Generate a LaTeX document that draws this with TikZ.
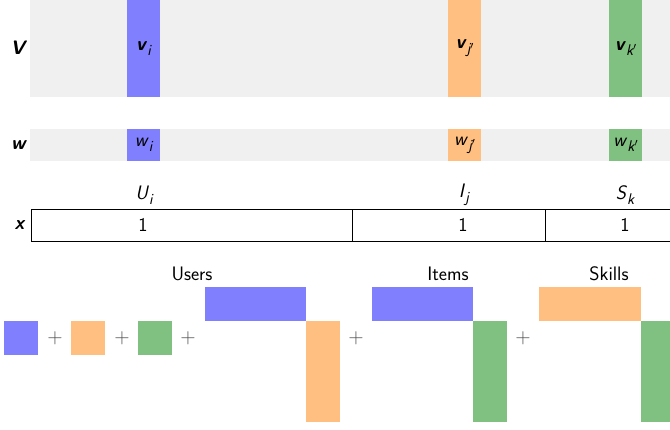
\documentclass[tikz,border=0pt]{standalone}
\usepackage{fontspec}
\usetikzlibrary{positioning}
\definecolor{ublue}{HTML}{8080FF}
\definecolor{iorange}{HTML}{FFBF80}
\definecolor{sgreen}{HTML}{80C080}
\definecolor{bandgray}{HTML}{F0F0F0}
\newcommand{\subtxt}[1]{\raisebox{-0.25em}{\fontsize{15.5}{15.5}\selectfont\mdseries\itshape #1}}
\newcommand{\prm}{\raisebox{0.3em}{\fontsize{11}{11}\selectfont$\prime$}}
\newcommand{\bvec}[2]{\textbf{\textit{#1}}\subtxt{#2}}
\newcommand{\ivec}[2]{\textit{#1}\subtxt{#2}}
\tikzstyle{band} = [rectangle, inner sep=0pt, outer sep=0pt, fill=bandgray, anchor=north west, minimum width=640pt]
\tikzstyle{col} = [rectangle, inner sep=0pt, outer sep=0pt, anchor=north west, minimum width=33pt]
\tikzstyle{cell} = [rectangle, inner sep=0pt, outer sep=0pt, anchor=north west, draw=black, minimum height=32pt]
\tikzstyle{bar} = [rectangle, inner sep=0pt, outer sep=0pt, anchor=north west]
\tikzstyle{plus} = [text=black!70, font=\sffamily\fontsize{21}{21}\selectfont]

\begin{document}
\begin{tikzpicture}[x=1pt, y=-1pt, font=\sffamily\fontsize{19.5}{21}\selectfont]
\useasboundingbox (0,0) rectangle (670,430);
% V
\node (Vband) [band, minimum height=97pt] at (30,0) {};
\node (Vlab) at (19,48) {\textbf{\textit{V}}};
\node (vi) [col, fill=ublue, minimum height=97pt] at (127,0) {\bvec{v}{i}};
\node (vj) [col, fill=iorange, minimum height=97pt] at (448,0) {\bvec{v}{j\prm}};
\node (vk) [col, fill=sgreen, minimum height=97pt] at (609,0) {\bvec{v}{k\prm}};
% w
\node (wband) [band, minimum height=32pt] at (30,129) {};
\node (wlab) at (19,145) {\textbf{\textit{w}}};
\node (wi) [col, fill=ublue, minimum height=32pt] at (127,129) {\ivec{w}{i}};
\node (wj) [col, fill=iorange, minimum height=32pt] at (448,129) {\ivec{w}{j\prm}};
\node (wk) [col, fill=sgreen, minimum height=32pt] at (609,129) {\ivec{w}{k\prm}};
% x
\node (xlab) at (20,225) {\textbf{\textit{x}}};
\node (cu) [cell, minimum width=321pt] at (31,209) {};
\node (ci) [cell, minimum width=193pt] at (cu.north east) {};
\node (cs) [cell, minimum width=125pt] at (ci.north east) {};
\node (Ui) at (144,195) {\ivec{U}{i}};
\node (Ij) at (464,195) {\ivec{I}{j}};
\node (Sk) at (625,195) {\ivec{S}{k}};
\node (xu) at (143,225) {1};
\node (xi) at (463,225) {1};
\node (xs) at (625,225) {1};
% sum of terms
\node (su) [bar, fill=ublue, minimum size=34pt] at (4,321) {};
\node (p1) [plus] at (55,338) {+};
\node (si) [bar, fill=iorange, minimum size=34pt] at (71,321) {};
\node (p2) [plus] at (122,338) {+};
\node (ss) [bar, fill=sgreen, minimum size=34pt] at (138,321) {};
\node (p3) [plus] at (188,338) {+};
% users x items
\node (Users) at (192,274) {Users};
\node (uh) [bar, fill=ublue, minimum width=101pt, minimum height=34pt] at (205,287) {};
\node (uv) [bar, fill=iorange, minimum width=34pt, minimum height=101pt] at (uh.south east) {};
\node (p4) [plus] at (356,338) {+};
% items x skills
\node (Items) at (448,274) {Items};
\node (ih) [bar, fill=ublue, minimum width=101pt, minimum height=34pt] at (372,287) {};
\node (iv) [bar, fill=sgreen, minimum width=34pt, minimum height=101pt] at (ih.south east) {};
\node (p5) [plus] at (523,338) {+};
% skills x skills
\node (Skills) at (609,274) {Skills};
\node (kh) [bar, fill=iorange, minimum width=102pt, minimum height=34pt] at (539,287) {};
\node (kv) [bar, fill=sgreen, minimum width=34pt, minimum height=101pt] at (kh.south east) {};
\end{tikzpicture}
\end{document}
